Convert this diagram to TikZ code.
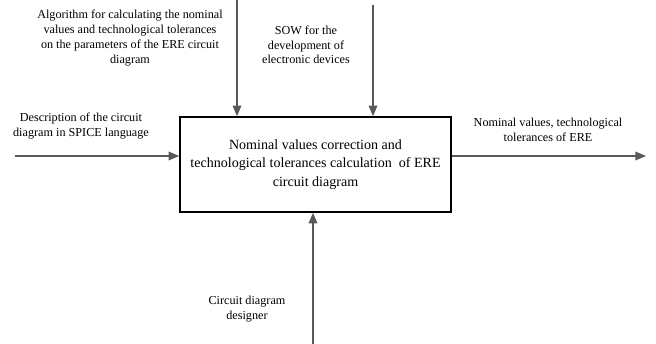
\documentclass[tikz,border=0pt]{standalone}
\usepackage{fontspec}
\setmainfont{Liberation Serif}
\usetikzlibrary{arrows.meta}
\tikzset{
  flow/.style={draw=black!65,line width=0.4mm,-{Triangle[length=3.2mm,width=2.6mm]}},
  lbl/.style={align=center,font=\fontsize{10.4}{12.6}\selectfont},
}
\begin{document}
\begin{tikzpicture}[x=0.3mm,y=-0.3mm]
\useasboundingbox (0,0) rectangle (656,344);

% Function block of the IDEF0 diagram
\node[draw,line width=0.45mm,minimum width=271*0.3mm,minimum height=95*0.3mm,
  align=center,font=\fontsize{12}{15.5}\selectfont] (proc) at (315.5,164.5)
  {Nominal values correction and\\technological tolerances calculation\ \ of ERE\\circuit diagram};

% Arrow ends outside the block
\coordinate (ctlA) at (237,0);
\coordinate (ctlB) at (373,5);
\coordinate (inp) at (15,156);
\coordinate (outp) at (646,156);
\coordinate (mech) at (313,344);

\draw[flow] (ctlA) -- (ctlA |- proc.north);
\draw[flow] (ctlB) -- (ctlB |- proc.north);
\draw[flow] (inp) -- (inp -| proc.west);
\draw[flow] (outp -| proc.east) -- (outp);
\draw[flow] (mech) -- (mech |- proc.south);

% Arrow labels
\node[lbl] (algo) at (130,38) {Algorithm for calculating the nominal\\values and technological tolerances\\on the parameters of the ERE circuit\\diagram};
\node[lbl] (sow) at (306,45) {SOW for the\\development of\\electronic devices};
\node[lbl] (spice) at (81,126) {Description of the circuit\\diagram in SPICE\ language};
\node[lbl] (nomv) at (548,130) {Nominal values, technological\\tolerances of ERE};
\node[lbl] (dsgn) at (247,309) {Circuit diagram\\designer};
\end{tikzpicture}
\end{document}
